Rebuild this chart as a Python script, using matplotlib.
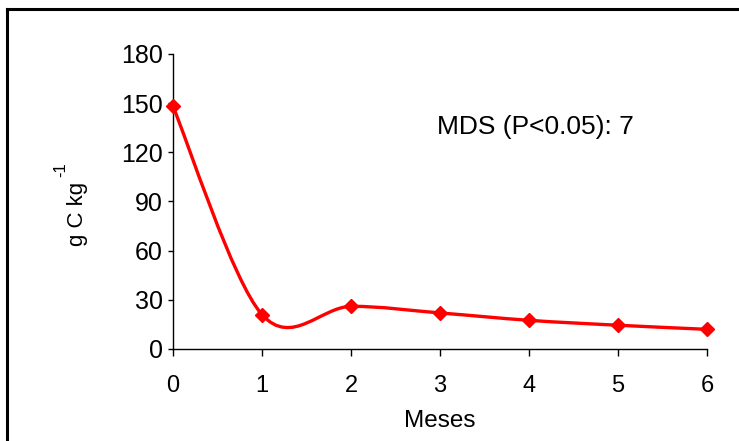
import matplotlib
matplotlib.use("Agg")
import matplotlib.pyplot as plt
from matplotlib.path import Path
from matplotlib.patches import PathPatch
from matplotlib.lines import Line2D
import numpy as np

plt.rcParams['font.family'] = ['Liberation Sans', 'DejaVu Sans']

months = [0, 1, 2, 3, 4, 5, 6]
carbon = [148, 21, 26, 22, 17.5, 14.5, 12]
x_ticks = [0, 1, 2, 3, 4, 5, 6]
y_ticks = [0, 30, 60, 90, 120, 150, 180]
annotation = "MDS (P<0.05): 7"

W, H = 739, 441
fig = plt.figure(figsize=(W / 100, H / 100), dpi=100)
ax = fig.add_axes([173 / W, 1 - 349 / H, (707 - 173) / W, (349 - 54) / H])

# Smoothed curve (Excel-like Bezier smoothing) through data points
pts = np.column_stack([months, carbon]).astype(float)
n = len(pts)
verts = [tuple(pts[0])]
codes = [Path.MOVETO]
for i in range(n - 1):
    p0 = pts[i - 1] if i > 0 else pts[i]
    p1 = pts[i]
    p2 = pts[i + 1]
    p3 = pts[i + 2] if i + 2 < n else pts[i + 1]
    c1 = p1 + (p2 - p0) / 6
    c2 = p2 - (p3 - p1) / 6
    verts += [tuple(c1), tuple(c2), tuple(p2)]
    codes += [Path.CURVE4] * 3
ax.add_patch(PathPatch(Path(verts, codes), facecolor='none', edgecolor='#ff0000',
                       lw=2.4, zorder=3, capstyle='round', joinstyle='round'))
ax.plot(months, carbon, linestyle='none', marker='D', color='#ff0000',
        markersize=7, zorder=4, clip_on=False)

ax.set_xlim(0, 6)
ax.set_ylim(0, 180)
ax.set_xticks(x_ticks)
ax.set_yticks(y_ticks)
ax.tick_params(axis='y', direction='out', length=3.6, width=1, labelsize=18, pad=3.6)
ax.tick_params(axis='x', direction='out', length=5, width=1, labelsize=17, pad=14)
for s in ['top', 'right']:
    ax.spines[s].set_visible(False)
for s in ['left', 'bottom']:
    ax.spines[s].set_linewidth(1)

ax.set_xlabel("Meses", fontsize=17.5, labelpad=9)
fig.text(77 / W, 1 - 214 / H, "g C kg", rotation=90, fontsize=16,
         ha='center', va='center')
fig.text(61 / W, 1 - 170 / H, "-1", rotation=90, fontsize=12,
         ha='center', va='center')
ax.text(437 / W, 1 - 127 / H, annotation, transform=fig.transFigure,
        fontsize=19, ha='left', va='center')

# figure frame (top and left edges visible)
fig.add_artist(Line2D([7 / W, 1], [1 - 9 / H, 1 - 9 / H], color='black', lw=2.2,
                      transform=fig.transFigure))
fig.add_artist(Line2D([7 / W, 7 / W], [0, 1 - 9 / H], color='black', lw=2.2,
                      transform=fig.transFigure))

fig.savefig("out.png", dpi=100)
